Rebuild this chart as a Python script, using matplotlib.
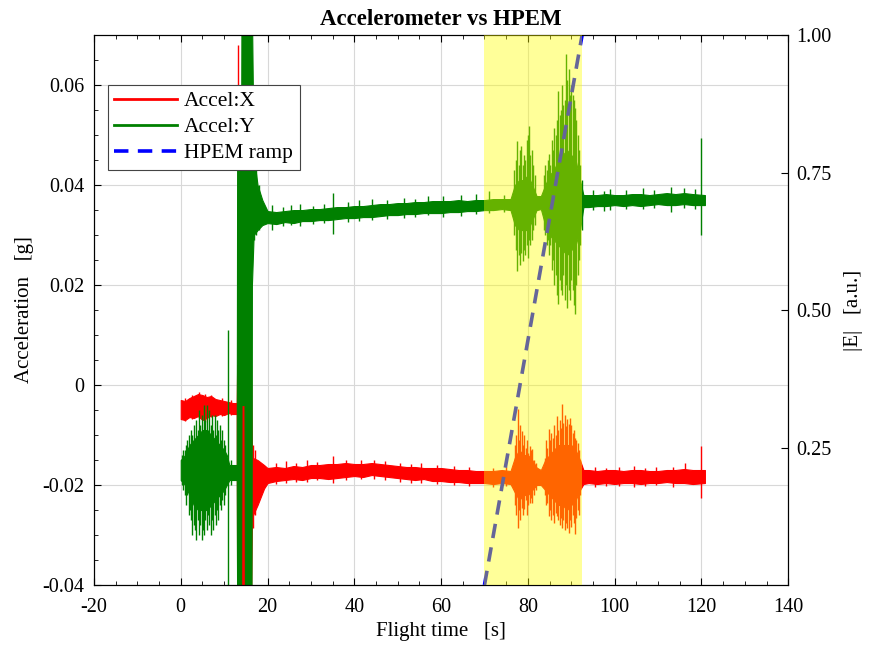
import numpy as np
import matplotlib
matplotlib.use("Agg")
import matplotlib.pyplot as plt
from matplotlib.lines import Line2D

plt.rcParams["font.family"] = ["Liberation Serif", "DejaVu Serif"]
plt.rcParams["axes.unicode_minus"] = False

# --- Accel:X envelope (time [s], lower / upper [g]) ---
ax_t = [0, 1, 2, 3, 4, 5, 6, 7, 8, 9, 10, 11, 12, 12.9, 13.0, 16.2, 16.4, 17.7, 19.2,
        20, 22, 24, 26, 28, 30, 32, 34, 36, 38, 40, 42, 44, 46, 48, 50, 52, 54, 56, 58,
        60, 62, 64, 66, 68, 70, 72, 74, 76, 77, 78, 79, 80, 81, 82, 83, 84, 85, 86, 87,
        88, 89, 90, 91, 92, 92.8, 94, 96, 98, 100, 102, 104, 106, 108, 110, 112, 114,
        116, 118, 120.8]
ax_lo = [-0.0068, -0.0070, -0.0064, -0.0066, -0.0062, -0.0070, -0.0066, -0.0060, -0.0062,
         -0.0058, -0.0060, -0.0056, -0.0058, -0.0058, -0.045, -0.045, -0.0265, -0.0240,
         -0.0207, -0.0196, -0.0192, -0.0190, -0.0188, -0.0190, -0.0186, -0.0186, -0.0188,
         -0.0186, -0.0184, -0.0182, -0.0184, -0.0180, -0.0182, -0.0184, -0.0186, -0.0188,
         -0.0190, -0.0188, -0.0192, -0.0192, -0.0194, -0.0194, -0.0196, -0.0196, -0.0196,
         -0.0198, -0.0196, -0.0198, -0.0215, -0.0230, -0.0220, -0.0220, -0.0210, -0.0200,
         -0.0200, -0.0210, -0.0220, -0.0230, -0.0240, -0.0240, -0.0250, -0.0240, -0.0230,
         -0.0210, -0.0198, -0.0196, -0.0198, -0.0196, -0.0198, -0.0196, -0.0196, -0.0198,
         -0.0196, -0.0196, -0.0194, -0.0196, -0.0196, -0.0198, -0.0196]
ax_hi = [-0.0030, -0.0032, -0.0026, -0.0022, -0.0018, -0.0020, -0.0024, -0.0022, -0.0028,
         -0.0030, -0.0032, -0.0034, -0.0036, -0.0036, 0.004, 0.004, -0.0145, -0.0150,
         -0.0160, -0.0166, -0.0164, -0.0166, -0.0162, -0.0164, -0.0160, -0.0160, -0.0158,
         -0.0158, -0.0156, -0.0158, -0.0158, -0.0156, -0.0158, -0.0160, -0.0162, -0.0164,
         -0.0164, -0.0166, -0.0166, -0.0166, -0.0168, -0.0170, -0.0170, -0.0172, -0.0172,
         -0.0172, -0.0170, -0.0172, -0.0145, -0.0130, -0.0140, -0.0140, -0.0150, -0.0165,
         -0.0170, -0.0150, -0.0140, -0.0130, -0.0120, -0.0120, -0.0120, -0.0120, -0.0130,
         -0.0150, -0.0170, -0.0170, -0.0172, -0.0170, -0.0170, -0.0172, -0.0170, -0.0170,
         -0.0172, -0.0172, -0.0170, -0.0170, -0.0168, -0.0170, -0.0170]

# Accel:X individual spikes (time, min, max)
ax_spk_t = [1.0, 2.5, 4.2, 5.5, 7.0, 9.5, 11.5, 13.1, 16.6, 17.1,
            22.0, 24.3, 26.5, 29.0, 31.5, 35.2, 38.0, 41.5, 44.5, 47.0, 50.5, 53.0, 55.3,
            59.0, 63.0, 66.5, 72.0, 75.0,
            77.0, 77.3, 77.7, 78.0, 78.3, 78.6, 78.9, 79.2, 79.5, 79.8, 80.1, 80.4, 80.7,
            81.0, 81.4, 81.8,
            83.9, 84.2, 84.5, 84.8, 85.1, 85.4, 85.8, 86.1, 86.4, 86.7, 87.0, 87.3, 87.6,
            87.9, 88.2, 88.5, 88.8, 89.1, 89.4, 89.7, 90.0, 90.3, 90.6, 90.9, 91.2, 91.5,
            91.8, 92.1,
            95.5, 98.0, 101.0, 104.5, 107.0, 109.5, 113.5, 116.2, 119.8]
ax_spk_lo = [-0.0072, -0.0068, -0.0066, -0.0074, -0.0064, -0.0062, -0.0060, -0.006, -0.0285,
             -0.0260,
             -0.0198, -0.0196, -0.0194, -0.0194, -0.0190, -0.0196, -0.0190, -0.0188, -0.0188,
             -0.0190, -0.0194, -0.0196, -0.0196, -0.0198, -0.0200, -0.0202, -0.0204, -0.0202,
             -0.0240, -0.0260, -0.0286, -0.0250, -0.0270, -0.0245, -0.0260, -0.0248, -0.0230,
             -0.0260, -0.0240, -0.0235, -0.0225, -0.0236, -0.0220, -0.0210,
             -0.0220, -0.0240, -0.0235, -0.0262, -0.0250, -0.0270, -0.0260, -0.0276, -0.0255,
             -0.0262, -0.0270, -0.0280, -0.0265, -0.0286, -0.0270, -0.0290, -0.0275, -0.0285,
             -0.0296, -0.0270, -0.0284, -0.0260, -0.0275, -0.0298, -0.0265, -0.0250, -0.0260,
             -0.0220,
             -0.0204, -0.0202, -0.0202, -0.0204, -0.0202, -0.0200, -0.0204, -0.0190, -0.0226]
ax_spk_hi = [-0.0026, -0.0020, -0.0014, -0.0018, -0.0020, -0.0026, -0.0030, 0.068, -0.0120,
             -0.0130,
             -0.0156, -0.0152, -0.0156, -0.0150, -0.0154, -0.0142, -0.0150, -0.0150, -0.0150,
             -0.0152, -0.0156, -0.0158, -0.0156, -0.0160, -0.0162, -0.0164, -0.0166, -0.0164,
             -0.0120, -0.0100, -0.0048, -0.0110, -0.0080, -0.0092, -0.0120, -0.0100, -0.0125,
             -0.0110, -0.0135, -0.0122, -0.0130, -0.0128, -0.0150, -0.0155,
             -0.0145, -0.0110, -0.0125, -0.0088, -0.0110, -0.0096, -0.0105, -0.0080, -0.0100,
             -0.0062, -0.0090, -0.0070, -0.0085, -0.0038, -0.0075, -0.0060, -0.0082, -0.0068,
             -0.0078, -0.0065, -0.0080, -0.0095, -0.0090, -0.0105, -0.0110, -0.0115, -0.0130,
             -0.0150,
             -0.0164, -0.0166, -0.0164, -0.0162, -0.0166, -0.0164, -0.0164, -0.0156, -0.0122]

# --- Accel:Y envelope ---
ay_t = [0, 1, 2, 3, 4, 5, 6, 7, 8, 9, 10, 10.6, 11.2, 12.5, 12.9, 13.0, 13.9, 14.0, 14.7,
        14.8, 16.3, 16.4, 16.8, 17.7, 18.8, 20, 22, 24, 26, 28, 30, 32, 34, 36, 38, 40,
        42, 44, 46, 48, 50, 52, 54, 56, 58, 60, 62, 64, 66, 68, 70, 72, 74, 76, 77, 78,
        79, 80, 81, 82, 83, 84, 85, 86, 87, 88, 89, 90, 91, 92, 92.8, 94, 96, 98, 100,
        102, 104, 106, 108, 110, 112, 114, 116, 118, 120.8]
ay_lo = [-0.0190, -0.0200, -0.0220, -0.0240, -0.0250, -0.0250, -0.0250, -0.0240, -0.0230,
         -0.0220, -0.0210, -0.0200, -0.0190, -0.0190, -0.0190, -0.045, -0.045, -0.004,
         -0.004, -0.045, -0.045, 0.020, 0.030, 0.031, 0.032, 0.0324, 0.0322, 0.0326,
         0.0324, 0.0328, 0.0328, 0.0330, 0.0330, 0.0332, 0.0334, 0.0334, 0.0336, 0.0336,
         0.0338, 0.0340, 0.0340, 0.0342, 0.0342, 0.0344, 0.0344, 0.0344, 0.0346, 0.0346,
         0.0348, 0.0348, 0.0350, 0.0350, 0.0352, 0.0350, 0.0320, 0.0310, 0.0310, 0.0310,
         0.0330, 0.0350, 0.0352, 0.0320, 0.0300, 0.0290, 0.0280, 0.0270, 0.0260, 0.0270,
         0.0280, 0.0310, 0.0356, 0.0356, 0.0358, 0.0358, 0.0360, 0.0358, 0.0360, 0.0358,
         0.0360, 0.0362, 0.0360, 0.0360, 0.0362, 0.0360, 0.0360]
ay_hi = [-0.0150, -0.0140, -0.0120, -0.0110, -0.0100, -0.0090, -0.0090, -0.0100, -0.0110,
         -0.0120, -0.0130, -0.0140, -0.0160, -0.0160, -0.0160, 0.045, 0.045, 0.075, 0.075,
         0.075, 0.075, 0.075, 0.046, 0.040, 0.037, 0.0348, 0.0346, 0.0348, 0.0350, 0.0350,
         0.0352, 0.0352, 0.0354, 0.0356, 0.0356, 0.0358, 0.0358, 0.0360, 0.0362, 0.0362,
         0.0364, 0.0364, 0.0366, 0.0366, 0.0368, 0.0368, 0.0368, 0.0370, 0.0368, 0.0370,
         0.0370, 0.0372, 0.0372, 0.0372, 0.0400, 0.0410, 0.0410, 0.0420, 0.0400, 0.0378,
         0.0378, 0.0400, 0.0420, 0.0430, 0.0450, 0.0460, 0.0470, 0.0460, 0.0450, 0.0410,
         0.0380, 0.0380, 0.0380, 0.0382, 0.0380, 0.0380, 0.0382, 0.0382, 0.0380, 0.0382,
         0.0384, 0.0382, 0.0384, 0.0382, 0.0380]

# Accel:Y individual spikes (time, min, max)
ay_spk_t = [0.3, 0.6, 0.9, 1.2, 1.5, 1.8, 2.1, 2.4, 2.7, 3.0, 3.3, 3.6, 3.9, 4.2, 4.5, 4.8,
            5.1, 5.4, 5.7, 6.0, 6.3, 6.6, 6.9, 7.2, 7.5, 7.8, 8.1, 8.4, 8.7, 9.0, 9.3, 9.6,
            9.9, 10.2, 10.8, 11.5, 16.9, 17.3, 18.0,
            21.0, 23.5, 25.5, 27.5, 30.5, 33.0, 35.2, 38.5, 41.0, 44.0, 47.5, 51.5, 54.0,
            57.0, 60.5, 64.5, 68.0, 71.0, 74.5,
            76.9, 77.2, 77.6, 77.9, 78.2, 78.5, 78.8, 79.1, 79.4, 79.7, 80.0, 80.3, 80.6,
            80.9, 81.2, 81.6,
            83.7, 84.0, 84.3, 84.6, 84.9, 85.2, 85.5, 85.8, 86.1, 86.4, 86.7, 87.0, 87.3,
            87.6, 87.9, 88.2, 88.5, 88.8, 89.1, 89.4, 89.7, 90.0, 90.3, 90.6, 90.9, 91.2,
            91.5, 91.8, 92.1, 92.4,
            95.0, 97.5, 99.0, 102.5, 106.5, 109.0, 113.0, 116.0, 118.5, 119.8]
ay_spk_lo = [-0.020, -0.021, -0.022, -0.024, -0.022, -0.026, -0.025, -0.027, -0.030, -0.028,
             -0.029, -0.031, -0.027, -0.030, -0.028, -0.031, -0.029, -0.030, -0.027, -0.029,
             -0.026, -0.028, -0.030, -0.027, -0.029, -0.026, -0.028, -0.025, -0.027, -0.024,
             -0.025, -0.023, -0.024, -0.022, -0.045, -0.020, 0.029, 0.030, 0.031,
             0.0310, 0.0318, 0.0320, 0.0318, 0.0322, 0.0324, 0.0302, 0.0326, 0.0328, 0.0330,
             0.0332, 0.0334, 0.0336, 0.0340, 0.0336, 0.0338, 0.0342, 0.0344, 0.0346,
             0.030, 0.027, 0.0228, 0.026, 0.024, 0.0265, 0.0248, 0.027, 0.026, 0.028, 0.0255,
             0.029, 0.028, 0.029, 0.031, 0.032,
             0.031, 0.030, 0.028, 0.029, 0.026, 0.028, 0.023, 0.025, 0.020, 0.022, 0.018,
             0.0162, 0.021, 0.019, 0.018, 0.022, 0.017, 0.020, 0.0154, 0.019, 0.017, 0.021,
             0.019, 0.016, 0.0142, 0.020, 0.022, 0.025, 0.028, 0.031,
             0.0350, 0.0348, 0.0350, 0.0352, 0.0352, 0.0354, 0.0346, 0.0354, 0.0352, 0.030]
ay_spk_hi = [-0.014, -0.013, -0.013, -0.012, -0.011, -0.010, -0.012, -0.009, -0.010, -0.008,
             -0.011, -0.007, -0.009, -0.005, -0.008, -0.006, -0.010, -0.004, -0.007, -0.004,
             -0.009, -0.005, -0.008, -0.006, -0.009, -0.006, -0.010, -0.007, -0.009, -0.008,
             -0.011, -0.009, -0.011, -0.012, 0.011, -0.015, 0.047, 0.044, 0.040,
             0.0360, 0.0356, 0.0360, 0.0362, 0.0358, 0.0362, 0.0385, 0.0366, 0.0370, 0.0372,
             0.0370, 0.0375, 0.0372, 0.0378, 0.0378, 0.0380, 0.0382, 0.0388, 0.0380,
             0.043, 0.045, 0.0488, 0.044, 0.047, 0.0478, 0.044, 0.046, 0.045, 0.049, 0.050,
             0.0518, 0.046, 0.047, 0.044, 0.042,
             0.042, 0.044, 0.043, 0.045, 0.0462, 0.044, 0.049, 0.047, 0.0514, 0.050, 0.053,
             0.0588, 0.054, 0.055, 0.060, 0.056, 0.057, 0.0662, 0.061, 0.0632, 0.058, 0.060,
             0.058, 0.057, 0.0555, 0.053, 0.050, 0.047, 0.044, 0.041,
             0.0390, 0.0388, 0.0392, 0.0390, 0.0394, 0.0390, 0.0396, 0.0394, 0.0392, 0.0494]

# HPEM field ramp and exposure window
ramp_t = [70.0, 92.5]
ramp_e = [0.0, 1.0]
hpem_window = (70.0, 92.5)

xticks = [-20, 0, 20, 40, 60, 80, 100, 120, 140]
yticks = [-0.04, -0.02, 0.0, 0.02, 0.04, 0.06]
ytick_labels = ["-0.04", "-0.02", "0", "0.02", "0.04", "0.06"]
eticks = [0.25, 0.50, 0.75, 1.00]

RED = "#ff0000"
GREEN = "#008000"

fig = plt.figure(figsize=(8.7, 6.5), dpi=100)
ax = fig.add_axes([0.108, 0.10, 0.798, 0.846])

# noisy traces: envelope band plus individual spikes
ax.fill_between(ax_t, ax_lo, ax_hi, color=RED, lw=0.8, zorder=2)
ax.vlines(ax_spk_t, ax_spk_lo, ax_spk_hi, color=RED, lw=1.0, zorder=2)
ax.fill_between(ay_t, ay_lo, ay_hi, color=GREEN, lw=0.8, zorder=2.5)
ax.vlines(ay_spk_t, ay_spk_lo, ay_spk_hi, color=GREEN, lw=1.0, zorder=2.5)

ax.set_xlim(-20, 140)
ax.set_ylim(-0.04, 0.07)
ax.set_xticks(xticks)
ax.set_xticklabels([str(v) for v in xticks])
ax.set_yticks(yticks)
ax.set_yticklabels(ytick_labels)
ax.xaxis.set_minor_locator(matplotlib.ticker.MultipleLocator(5))
ax.yaxis.set_minor_locator(matplotlib.ticker.MultipleLocator(0.005))
ax.tick_params(axis="both", which="both", direction="in", labelsize=14.5)
ax.tick_params(axis="x", which="both", top=True)
ax.tick_params(which="major", length=5)
ax.tick_params(which="minor", length=3)
ax.tick_params(axis="x", which="major", pad=9)
ax.tick_params(axis="y", which="major", pad=7)
ax.grid(True, color="#d8d8d8", lw=0.8)
ax.set_axisbelow(True)
ax.set_xlabel("Flight time   [s]", fontsize=15, labelpad=4)
ax.set_ylabel("Acceleration   [g]", fontsize=15, labelpad=6)
ax.set_title("Accelerometer vs HPEM", fontsize=16.5, fontweight="bold", pad=7)

ax2 = ax.twinx()
ax2.plot(ramp_t, ramp_e, color="blue", lw=2.6, ls=(0, (4, 2.6)), zorder=2)
ax2.axvspan(*hpem_window, color="yellow", alpha=0.4, lw=0, zorder=3)
ax2.set_ylim(0, 1)
ax2.set_yticks(eticks)
ax2.set_yticklabels([f"{v:.2f}" for v in eticks])
ax2.tick_params(axis="y", direction="in", labelsize=14.5, length=5, pad=6)
ax2.set_ylabel("|E|   [a.u.]", fontsize=15, labelpad=9)

handles = [Line2D([], [], color=RED, lw=2),
           Line2D([], [], color=GREEN, lw=2),
           Line2D([], [], color="blue", lw=2.6, ls=(0, (4, 2.6)))]
leg = ax2.legend(handles, ["Accel:X", "Accel:Y", "HPEM ramp"], loc="upper left",
                 bbox_to_anchor=(0.02, 0.91), borderaxespad=0, fontsize=15.5,
                 fancybox=False, framealpha=1, edgecolor="#444444",
                 handlelength=2.9, handletextpad=0.35, labelspacing=0.28, borderpad=0.3)
leg.get_frame().set_linewidth(0.8)
leg.set_zorder(10)

fig.savefig("out.png", dpi=100)
